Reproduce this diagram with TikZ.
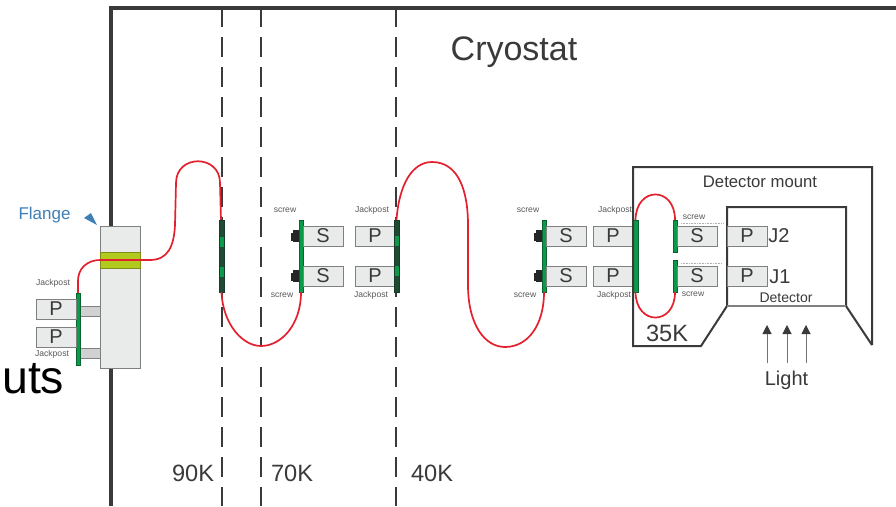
\documentclass[tikz,border=0pt]{standalone}
\usepackage{fontspec}
\setmainfont{Liberation Sans}
\usetikzlibrary{arrows.meta}
\definecolor{boxfill}{HTML}{E9EBEA}
\definecolor{boxline}{HTML}{808080}
\definecolor{pcb}{HTML}{0A9A4A}
\definecolor{darkpcb}{HTML}{1F4A33}
\definecolor{cable}{HTML}{E5202E}
\definecolor{band}{HTML}{B2C91E}
\definecolor{flangeblue}{HTML}{3F7FB5}
\definecolor{ink}{HTML}{3A3A3A}
\tikzset{
  x=1pt,y=-1pt,
  conn/.style={draw=boxline,fill=boxfill,line width=1pt,minimum width=40pt,minimum height=20pt,inner sep=0pt,text=ink,font=\fontsize{20}{22}\selectfont},
  pcbbar/.style={fill=pcb,draw=pcb!65!black,line width=.3pt,minimum width=4.5pt,inner sep=0pt},
  darkbar/.style={fill=darkpcb,draw=darkpcb!80!black,line width=.4pt,minimum width=4.5pt,minimum height=72pt,inner sep=0pt},
  stripe/.style={fill=pcb,minimum width=4pt,minimum height=10pt,inner sep=0pt},
  screwhead/.style={fill=black!85,minimum width=6pt,minimum height=12.5pt,inner sep=0pt},
  screwtip/.style={fill=black!85,minimum width=2.5pt,minimum height=8.5pt,inner sep=0pt},
  small/.style={text=black!65,font=\fontsize{8.6}{10}\selectfont,inner sep=0pt},
  big/.style={text=ink,font=\fontsize{23.6}{26}\selectfont,inner sep=0pt},
  mid/.style={text=ink,font=\fontsize{20}{22}\selectfont,inner sep=0pt},
  wire/.style={draw=cable,line width=1.7pt},
  stage/.style={draw=ink,line width=1.5pt,dash pattern=on 20pt off 10pt},
  wall/.style={draw=ink,line width=4pt},
  mount/.style={draw=ink,line width=2pt},
  ray/.style={draw=black!55,line width=1pt,-{Triangle[length=9pt,width=9pt,color=ink]}},
  micro/.style={draw=black!30,line width=.7pt,dash pattern=on 1pt off .6pt}
}
\begin{document}
\begin{tikzpicture}
\useasboundingbox (0,0) rectangle (896,506);
\clip (0,0) rectangle (896,506);
\fill[white] (0,0) rectangle (896,506);
% cryostat wall
\coordinate (wallA) at (110.5,506);
\coordinate (wallB) at (110.5,7.5);
\coordinate (wallC) at (896,7.5);
\draw[wall] (wallA) -- (wallB) -- (wallC);
% temperature stages
\coordinate (s1a) at (222,7); \coordinate (s1b) at (222,506);
\coordinate (s2a) at (261,7); \coordinate (s2b) at (261,506);
\coordinate (s3a) at (396,7); \coordinate (s3b) at (396,506);
\draw[stage] (s1a) -- (s1b);
\draw[stage] (s2a) -- (s2b);
\draw[stage] (s3a) -- (s3b);
\fill[white] (258,347) rectangle (264,362);
% flange
\node[draw=boxline,fill=boxfill,line width=1pt,minimum width=40pt,minimum height=142pt,inner sep=0pt] (flange) at (120,297) {};
\node[draw=band!70!black,fill=band,line width=.8pt,minimum width=40pt,minimum height=16pt,inner sep=0pt] (flangeband) at (120,260) {};
\node[draw=boxline,fill=black!18,line width=.6pt,minimum width=20pt,minimum height=10pt,inner sep=0pt] (post1) at (90,311) {};
\node[draw=boxline,fill=black!18,line width=.6pt,minimum width=20pt,minimum height=10pt,inner sep=0pt] (post2) at (90,353) {};
\node[pcbbar,minimum height=72pt] (barA) at (78,329) {};
\node[conn] (pA1) at (56,309) {P};
\node[conn] (pA2) at (56,337) {P};
% cable pieces
\draw[wire] (barA.north) -- ++(0,-10) .. controls (77,268) and (88,260) .. (100,260) -- (150,260) .. controls (168,260) and (174,246) .. (175,225) -- (176,183) .. controls (176,154) and (220,154) .. (220,183) -- (221,220);
% stage board 1
\node[darkbar] (barB) at (221.5,256) {};
\node[stripe] at (221.5,242) {};
\node[stripe] at (221.5,272) {};
% stage board 2
\node[pcbbar,minimum height=72pt] (barC) at (301,256) {};
\node[screwhead] (scrC1) at (296,236) {};
\node[screwtip] at (292,237) {};
\node[screwhead] (scrC2) at (296,276) {};
\node[screwtip] at (292,277) {};
\node[conn] (sC1) at (323,236) {S};
\node[conn] (sC2) at (323,276) {S};
\node[conn] (pD1) at (375,236) {P};
\node[conn] (pD2) at (375,276) {P};
\node[darkbar] (barD) at (396.5,256) {};
\node[stripe] at (396.5,241) {};
\node[stripe] at (396.5,271) {};
\draw[wire] (barB.south) .. controls (223,325) and (243,346) .. (261,346) .. controls (281,346) and (301,325) .. (barC.south);
% stage board 3
\node[pcbbar,minimum height=72pt] (barE) at (544,256) {};
\node[screwhead] (scrE1) at (539,236) {};
\node[screwtip] at (535,237) {};
\node[screwhead] (scrE2) at (539,276) {};
\node[screwtip] at (535,277) {};
\node[conn] (sE1) at (566,236) {S};
\node[conn] (sE2) at (566,276) {S};
\node[conn] (pF1) at (613,236) {P};
\node[conn] (pF2) at (613,276) {P};
\node[pcbbar,minimum height=72pt] (barF) at (635.5,256) {};
\draw[wire] (barD.north) .. controls (399,185) and (412,162) .. (432,162) .. controls (458,162) and (468,190) .. (468,225) -- (468,285) .. controls (468,325) and (485,347) .. (505,347) .. controls (528,347) and (544,325) .. (barE.south);
% detector mount
\coordinate (m1) at (633,167); \coordinate (m2) at (872,167); \coordinate (m3) at (872,345);
\coordinate (m4) at (846,306); \coordinate (m5) at (727,306); \coordinate (m6) at (701,346); \coordinate (m7) at (633,346);
\coordinate (d1) at (727,207); \coordinate (d2) at (846,207);
\draw[mount] (m3) -- (m2) -- (m1) -- (m7) -- (m6) -- (m5) -- (d1) -- (d2) -- (m4) -- (m3);
\draw[draw=boxline,line width=2pt] (m5) -- (m4);
% mount boards
\node[pcbbar,minimum height=32pt] (barG1) at (675,236) {};
\node[pcbbar,minimum height=32pt] (barG2) at (675,276) {};
\node[conn] (sG1) at (697,236) {S};
\node[conn] (sG2) at (697,276) {S};
\node[conn] (pH1) at (747,236) {P};
\node[conn] (pH2) at (747,276) {P};
\draw[wire] (barF.north) .. controls (636,186) and (675,186) .. (barG1.north);
\draw[wire] (barF.south) .. controls (636,326) and (675,326) .. (barG2.south);
% illegible micro print above the S connectors
\coordinate (q1a) at (681,223); \coordinate (q1b) at (724,223);
\coordinate (q2a) at (681,263.5); \coordinate (q2b) at (722,263.5);
\draw[micro] (q1a) -- (q1b);
\draw[micro] (q2a) -- (q2b);
% flange pointer
\fill[flangeblue] (84,218) -- (91,213) -- (97,225) -- cycle;
% labels
\node[text=ink,font=\fontsize{34}{38}\selectfont,inner sep=0pt] (tCryo) at (514,52) {Cryostat};
\node[text=flangeblue,font=\fontsize{17}{20}\selectfont,inner sep=0pt] (tFlange) at (44.5,215) {Flange};
\node[text=black,font=\fontsize{46.5}{50}\selectfont,inner sep=0pt,anchor=base west] (tUts) at (2,393) {uts};
\node[big] (t90) at (193,473) {90K};
\node[big] (t70) at (292,473) {70K};
\node[big] (t40) at (432,473) {40K};
\node[big] (t35) at (667,333) {35K};
\node[mid] (tJ2) at (779,236) {J2};
\node[mid] (tJ1) at (780,277) {J1};
\node[text=ink,font=\fontsize{16.7}{19}\selectfont,inner sep=0pt] (tMount) at (760,182) {Detector mount};
\node[text=ink,font=\fontsize{14}{16}\selectfont,inner sep=0pt] (tDet) at (786,298) {Detector};
\node[mid] (tLight) at (786.5,380) {Light};
\node[small] (j1) at (53,283) {Jackpost};
\node[small] (j2) at (52,354.5) {Jackpost};
\node[small] (c1) at (285,210) {screw};
\node[small] (c2) at (282,295) {screw};
\node[small] (j3) at (372,210) {Jackpost};
\node[small] (j4) at (371,295) {Jackpost};
\node[small] (c3) at (528,210) {screw};
\node[small] (c4) at (525,295) {screw};
\node[small] (j5) at (615,210) {Jackpost};
\node[small] (j6) at (614,295) {Jackpost};
\node[small] (c5) at (694,217) {screw};
\node[small] (c6) at (693,294) {screw};
% light rays
\coordinate (r1a) at (767,363); \coordinate (r1b) at (767,325);
\coordinate (r2a) at (787,363); \coordinate (r2b) at (787,325);
\coordinate (r3a) at (806,363); \coordinate (r3b) at (806,325);
\draw[ray] (r1a) -- (r1b);
\draw[ray] (r2a) -- (r2b);
\draw[ray] (r3a) -- (r3b);
\end{tikzpicture}
\end{document}
